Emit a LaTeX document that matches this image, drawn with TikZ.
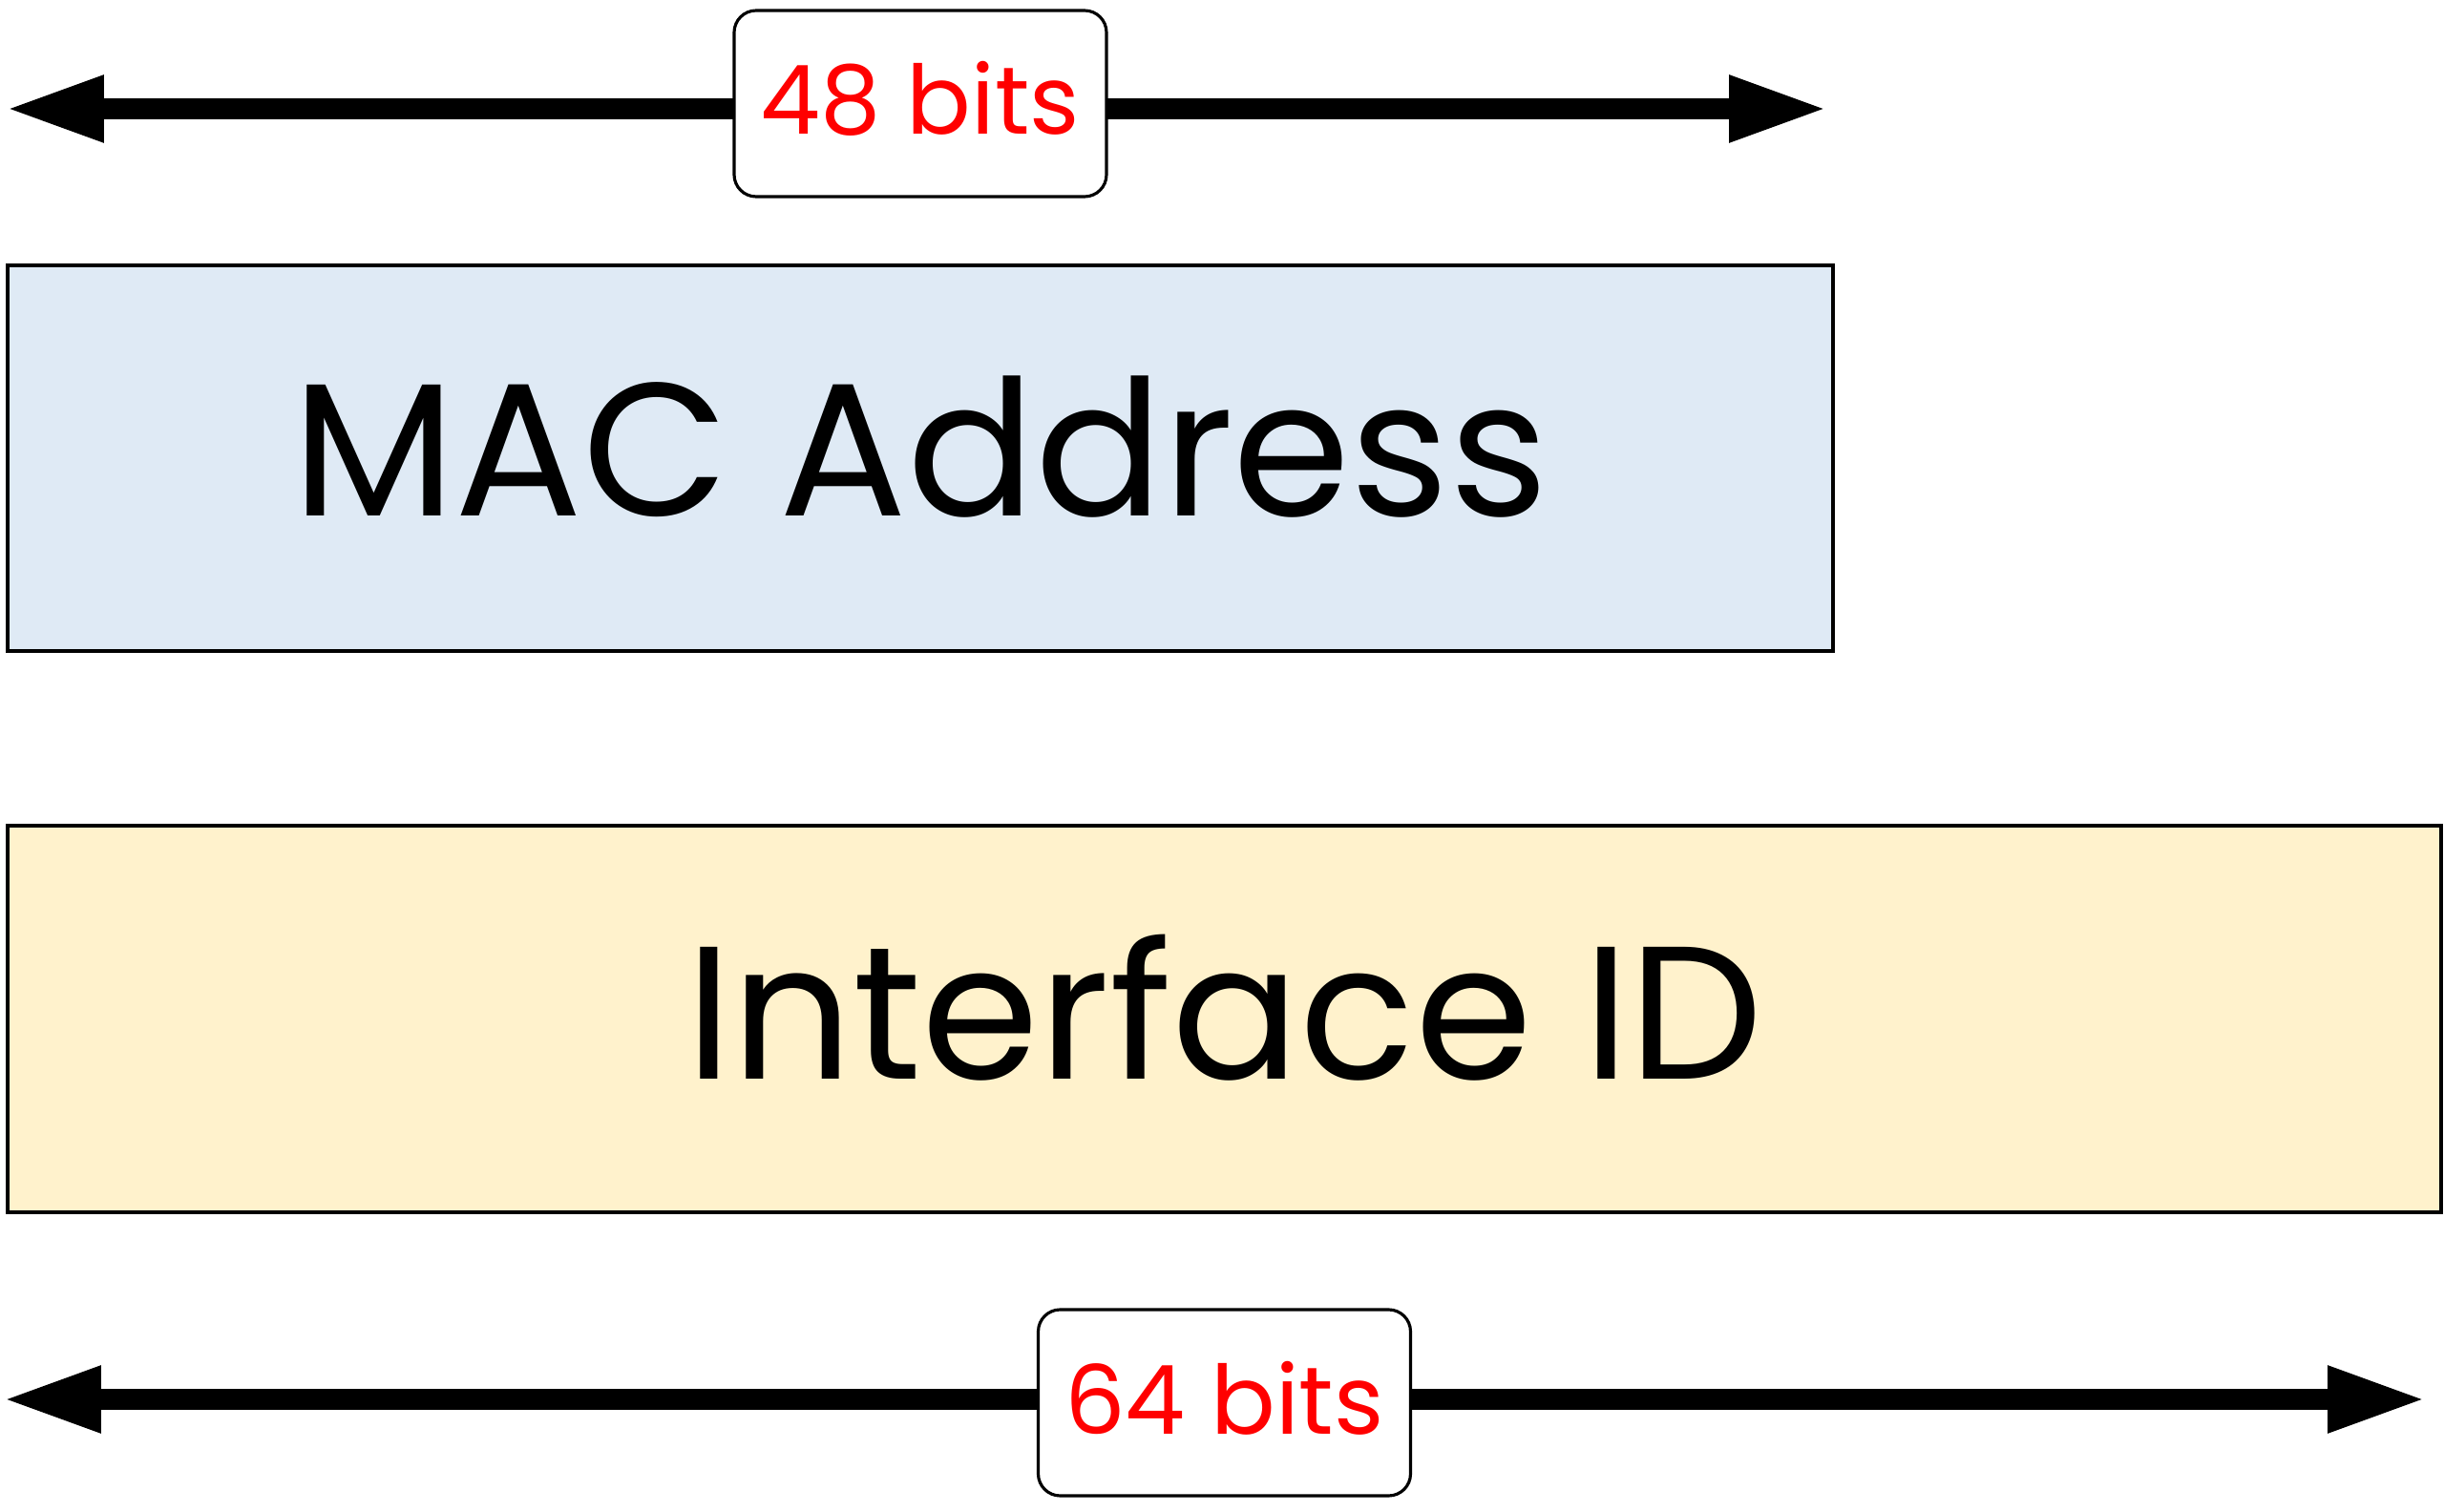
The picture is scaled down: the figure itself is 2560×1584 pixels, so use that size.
\documentclass[tikz,border=0pt]{standalone}
\usepackage{fontspec}
\setmainfont{Poppins}
\usetikzlibrary{arrows.meta}
\definecolor{macblue}{HTML}{DFEAF5}
\definecolor{idyellow}{HTML}{FFF2CC}
\newcommand{\lift}[2]{\raisebox{#1}[\height][\depth]{#2}}
\tikzset{
  field/.style={draw=black, line width=0.9pt, inner sep=0pt, font=\fontsize{56.4}{60}\selectfont},
  bitlabel/.style={draw=black, line width=0.9pt, fill=white, rounded corners=0.23cm, inner sep=0pt,
    minimum width=3.9cm, minimum height=1.95cm, text=red, font=\fontsize{28.5}{32}\selectfont},
  dimarrow/.style={line width=6.5pt, {Triangle[length=1.04cm,width=0.64cm]}-{Triangle[length=1.04cm,width=0.64cm]}}
}

\begin{document}
\begin{tikzpicture}[x=0.1mm, y=-0.1mm]
\useasboundingbox (0,0) rectangle (2560,1584);
% fields
\node[field, fill=macblue, minimum width=19.12cm, minimum height=4.04cm] (mac) at (964,480) {\lift{0.12cm}{MAC Address}};
\node[field, fill=idyellow, minimum width=25.49cm, minimum height=4.05cm] (iid) at (1282.5,1067.5) {\lift{0.12cm}{Interface ID}};
% 48 bits
\coordinate (l48) at (5,114);
\coordinate (r48) at (1915,114);
\draw[dimarrow] (l48) -- (r48);
\node[bitlabel] (lbl48) at (964,108.5) {\lift{0.05cm}{48 bits}};
% 64 bits
\coordinate (l64) at (2,1466);
\coordinate (r64) at (2542,1466);
\draw[dimarrow] (l64) -- (r64);
\node[bitlabel] (lbl64) at (1282.5,1469.5) {\lift{0.05cm}{64 bits}};
\end{tikzpicture}
\end{document}
